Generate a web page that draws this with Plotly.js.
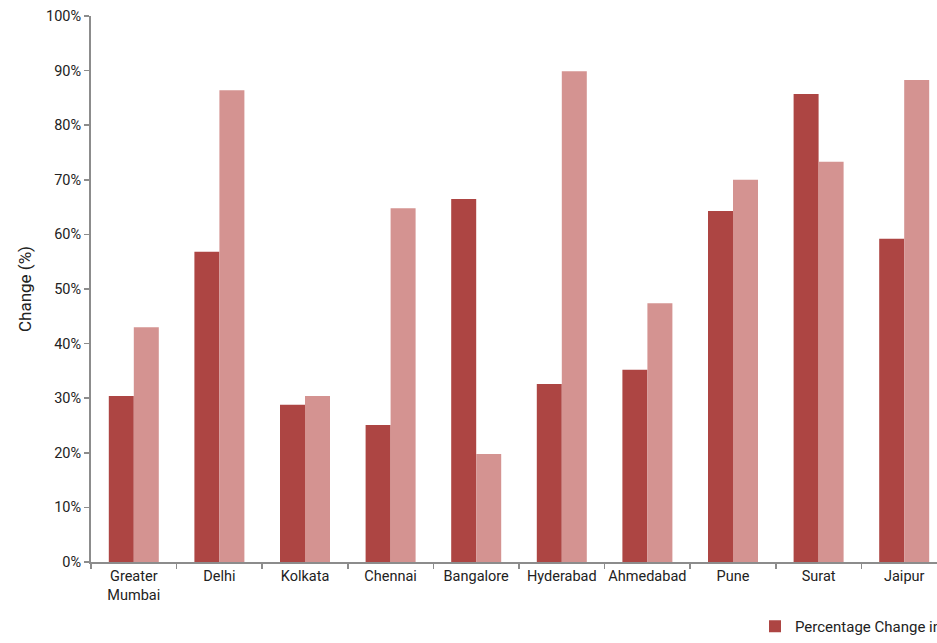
<!DOCTYPE html>
<html>
<head>
<meta charset="utf-8">
<script src="https://cdn.plot.ly/plotly-3.0.1.min.js"></script>
<style>
html,body{margin:0;padding:0;overflow:hidden;background:#fff;width:937px;height:643px;}
#chart{width:1400px;height:643px;}
</style>
</head>
<body>
<div id="chart"></div>
<script>
const categories = ["Greater<br>Mumbai","Delhi","Kolkata","Chennai","Bangalore","Hyderabad","Ahmedabad","Pune","Surat","Jaipur"];
const seriesAName = "Percentage Change in Population";
const seriesBName = "Percentage Change in Households";
const seriesA = [30.4, 56.8, 28.8, 25.1, 66.5, 32.6, 35.2, 64.3, 85.7, 59.2];
const seriesB = [43.0, 86.4, 30.4, 64.8, 19.8, 89.9, 47.4, 70.0, 73.3, 88.3];
const yTickVals = [0,10,20,30,40,50,60,70,80,90,100];
const yTickText = yTickVals.map(v => v + "%");

const font = "Roboto, 'Liberation Sans', Arial, sans-serif";
const W = 1400;

const traces = [
  {type:"bar", x:categories, y:seriesA, name:seriesAName, marker:{color:"#AD4543"}},
  {type:"bar", x:categories, y:seriesB, name:seriesBName, marker:{color:"#D49391"}}
];

const layout = {
  width: W, height: 643,
  margin:{l:91, r:W-947, t:16, b:81},
  paper_bgcolor:"#fff", plot_bgcolor:"#fff",
  barmode:"group", bargap:0.416, bargroupgap:0,
  font:{family:font, color:"#222", size:14},
  xaxis:{
    type:"category", showgrid:false, zeroline:false,
    showline:true, linecolor:"#8c8c8c", linewidth:2,
    ticks:"outside", tickson:"boundaries", ticklen:5, tickcolor:"#8c8c8c", tickwidth:1.5,
    tickangle:0,
    tickfont:{size:14.5, color:"#222", family:font}
  },
  yaxis:{
    range:[0,100], tickvals:yTickVals, ticktext:yTickText,
    showgrid:false, zeroline:false,
    showline:true, linecolor:"#8c8c8c", linewidth:2,
    ticks:"outside", ticklen:5, tickcolor:"#8c8c8c", tickwidth:1.5,
    tickfont:{size:14.5, color:"#222", family:font},
    title:{text:"Change (%)", font:{size:17, color:"#222", family:font}, standoff:10}
  },
  showlegend:true,
  legend:{orientation:"h", xref:"container", yref:"container", x:755/W, y:0.0, xanchor:"left", yanchor:"bottom",
    font:{size:15, color:"#222", family:font}, bgcolor:"rgba(0,0,0,0)"}
};

Plotly.newPlot("chart", traces, layout, {displayModeBar:false, staticPlot:true});
</script>
</body>
</html>
